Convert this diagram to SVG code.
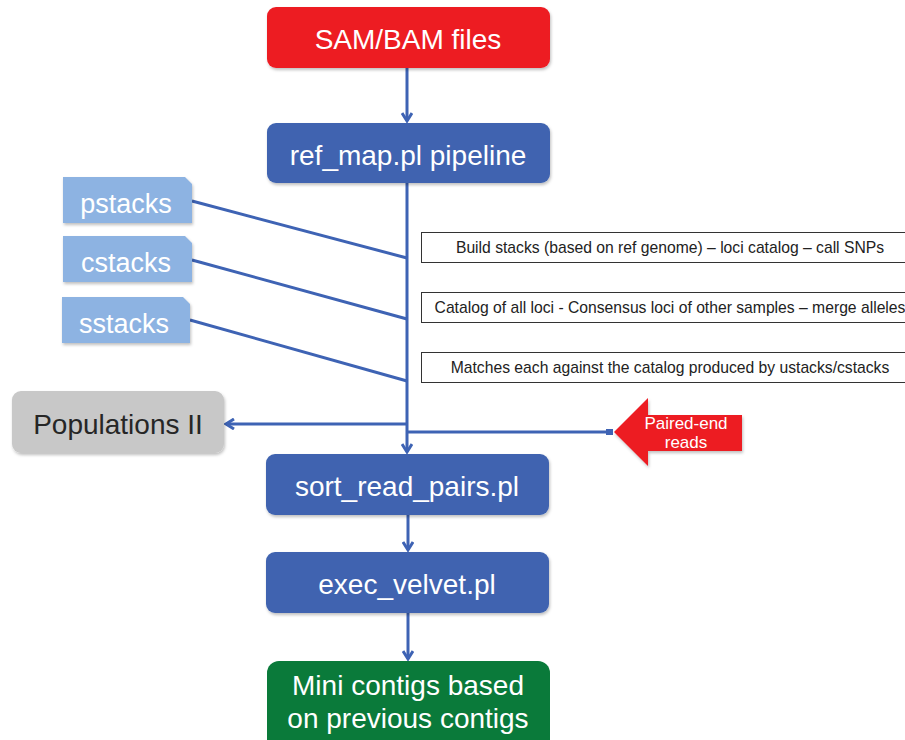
<svg xmlns="http://www.w3.org/2000/svg" width="905" height="740" viewBox="0 0 905 740">
<style>
.main{font-family:"Liberation Sans",Arial,sans-serif;font-size:28px;fill:#fff;text-anchor:middle}
.tab{font-family:"Liberation Sans",Arial,sans-serif;font-size:27px;fill:#fff;text-anchor:middle}
.note{font-family:"Liberation Sans",Arial,sans-serif;font-size:15.7px;fill:#222;text-anchor:middle}
.nbox{fill:#fff;stroke:#333;stroke-width:1}
.blue{fill:#3F64B0}
.conn{stroke:#3E63B4;stroke-width:3;fill:none}
.pe{font-family:"Liberation Sans",Arial,sans-serif;font-size:17px;fill:#fff;text-anchor:middle}
</style>
<defs>
<filter id="sh" x="-10%" y="-10%" width="130%" height="140%">
<feDropShadow dx="1" dy="2" stdDeviation="1.5" flood-color="#000" flood-opacity="0.25"/>
</filter>
<marker id="ah" markerWidth="12" markerHeight="12" refX="9" refY="6" orient="auto" markerUnits="userSpaceOnUse">
<path d="M1,1 L9,6 L1,11" fill="none" stroke="#3E63B4" stroke-width="3"/>
</marker>
</defs>
<g id="connectors">
<line class="conn" x1="407" y1="68" x2="407" y2="121" marker-end="url(#ah)"/>
<line class="conn" x1="407" y1="183" x2="407" y2="452" marker-end="url(#ah)"/>
<line class="conn" x1="408" y1="515" x2="408" y2="550" marker-end="url(#ah)"/>
<line class="conn" x1="408" y1="613" x2="408" y2="659" marker-end="url(#ah)"/>
<line class="conn" x1="192" y1="201" x2="407" y2="258"/>
<line class="conn" x1="192" y1="260" x2="407" y2="319"/>
<line class="conn" x1="190" y1="320" x2="407" y2="381"/>
<line class="conn" x1="407" y1="424" x2="226" y2="424" marker-end="url(#ah)"/>
<line class="conn" x1="407" y1="432" x2="612" y2="432"/>
<rect x="606" y="429" width="7" height="6" fill="#3E63B4"/>
</g>
<g id="sam">
<rect x="267" y="7" width="283" height="61" rx="9" fill="#ED1C24" filter="url(#sh)"/>
<text class="main" x="408" y="49">SAM/BAM files</text>
</g>
<g id="refmap">
<rect class="blue" x="267" y="123" width="283" height="60" rx="9" filter="url(#sh)"/>
<text class="main" x="408" y="165">ref_map.pl pipeline</text>
</g>
<g id="pstacks">
<path d="M63,177 H185 L192,184 V223 H63 Z" fill="#8DB3E2" filter="url(#sh)"/>
<text class="tab" x="126" y="213">pstacks</text>
</g>
<g id="cstacks">
<path d="M63,236 H185 L192,243 V282 H63 Z" fill="#8DB3E2" filter="url(#sh)"/>
<text class="tab" x="126" y="272">cstacks</text>
</g>
<g id="sstacks">
<path d="M62,297 H183 L190,304 V343 H62 Z" fill="#8DB3E2" filter="url(#sh)"/>
<text class="tab" x="124" y="333">sstacks</text>
</g>
<g id="note1">
<rect class="nbox" x="421.5" y="232.5" width="500" height="30"/>
<text class="note" x="670" y="253">Build stacks (based on ref genome) – loci catalog – call SNPs</text>
</g>
<g id="note2">
<rect class="nbox" x="421.5" y="292.5" width="500" height="30"/>
<text class="note" x="670" y="313">Catalog of all loci - Consensus loci of other samples – merge alleles</text>
</g>
<g id="note3">
<rect class="nbox" x="421.5" y="352.5" width="500" height="30"/>
<text class="note" x="670" y="373">Matches each against the catalog produced by ustacks/cstacks</text>
</g>
<g id="populations">
<rect x="12" y="391" width="212" height="62" rx="9" fill="#C8C8C8" filter="url(#sh)"/>
<text class="main" x="118" y="434" style="fill:#262626">Populations II</text>
</g>
<g id="paired">
<path d="M614,432 L648,398 V415 H742 V451 H648 V466 Z" fill="#ED1C24" filter="url(#sh)"/>
<text class="pe" x="686" y="429">Paired-end</text>
<text class="pe" x="686" y="448">reads</text>
</g>
<g id="sortpairs">
<rect class="blue" x="266" y="454" width="283" height="61" rx="9" filter="url(#sh)"/>
<text class="main" x="407" y="496">sort_read_pairs.pl</text>
</g>
<g id="velvet">
<rect class="blue" x="266" y="552" width="283" height="61" rx="9" filter="url(#sh)"/>
<text class="main" x="407" y="594">exec_velvet.pl</text>
</g>
<g id="contigs">
<rect x="267" y="661" width="283" height="90" rx="12" fill="#0A7A3A"/>
<text class="main" x="408" y="695">Mini contigs based</text>
<text class="main" x="408" y="728">on previous contigs</text>
</g>
</svg>
